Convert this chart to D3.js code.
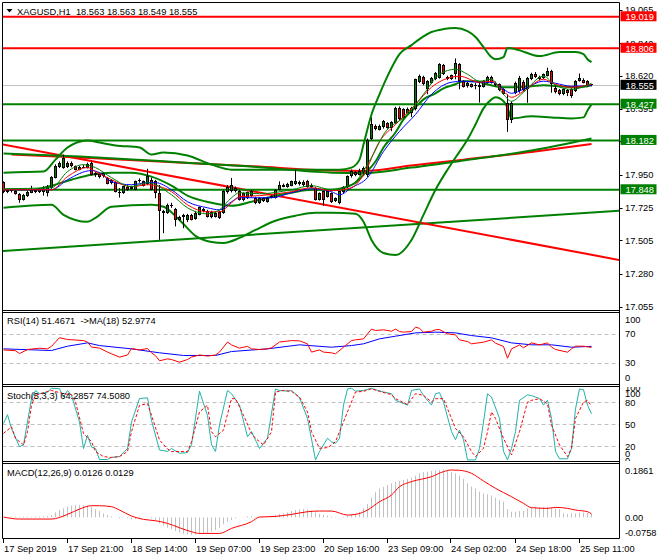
<!DOCTYPE html>
<html><head><meta charset="utf-8">
<script src="https://cdn.jsdelivr.net/npm/d3@7"></script>
<style>
html,body{margin:0;padding:0;background:#fff;}
svg{display:block;font-family:"Liberation Sans",Arial,sans-serif;}
text{white-space:pre;}
</style></head><body>
<svg id="c" width="660" height="560"></svg>
<script>
// ---------------- DATA ----------------
const mainTitle = "XAGUSD,H1  18.563 18.563 18.549 18.555";
const rsiTitle = "RSI(14) 51.4671  ->MA(18) 52.9774";
const stochTitle = "Stoch(5,3,3) 64.2857 74.5080";
const macdTitle = "MACD(12,26,9) 0.0126 0.0129";

const timeLabels = ["17 Sep 2019","17 Sep 21:00","18 Sep 14:00","19 Sep 07:00","19 Sep 23:00","20 Sep 16:00","23 Sep 09:00","24 Sep 02:00","24 Sep 18:00","25 Sep 11:00"];
const timeLabelBars = [0,16,32,48,64,80,96,112,128,144];

const priceTicks = [19.065,18.840,18.620,18.395,18.175,17.950,17.725,17.505,17.280,17.055];
const redLevels = [19.019,18.806];
const greenLevels = [18.427,18.182,17.848];
const lastPrice = 18.555;

// candles: [open, high, low, close]
const candles = [
[17.898,17.905,17.825,17.831],[17.832,17.850,17.825,17.845],[17.845,17.852,17.830,17.838],[17.840,17.845,17.815,17.822],
[17.822,17.825,17.760,17.780],[17.780,17.820,17.775,17.815],[17.805,17.840,17.800,17.835],[17.828,17.875,17.825,17.848],
[17.845,17.850,17.825,17.830],[17.830,17.858,17.826,17.850],[17.835,17.872,17.808,17.850],[17.826,17.880,17.803,17.866],
[17.860,17.940,17.855,17.932],[17.930,18.020,17.925,18.012],[18.000,18.040,17.995,18.030],[17.997,18.086,17.990,18.064],
[18.000,18.040,17.995,18.030],[18.030,18.040,18.000,18.008],[18.008,18.012,17.980,17.985],[17.985,18.010,17.980,18.005],
[18.005,18.015,17.995,18.000],[17.996,18.032,17.992,18.025],[18.030,18.040,17.945,17.951],[17.950,17.968,17.935,17.960],
[17.955,17.962,17.925,17.935],[17.940,17.965,17.930,17.960],[17.930,17.935,17.885,17.890],[17.895,17.920,17.885,17.912],
[17.900,17.905,17.830,17.836],[17.836,17.860,17.795,17.826],[17.826,17.875,17.820,17.871],[17.870,17.878,17.840,17.848],
[17.850,17.875,17.845,17.868],[17.848,17.910,17.845,17.905],[17.905,17.925,17.896,17.916],[17.905,17.910,17.870,17.875],
[17.885,17.990,17.880,17.940],[17.916,17.930,17.845,17.848],[17.905,17.915,17.790,17.826],[17.826,17.880,17.509,17.701],
[17.701,17.712,17.554,17.690],[17.690,17.755,17.685,17.747],[17.745,17.760,17.725,17.735],[17.717,17.725,17.600,17.645],
[17.645,17.672,17.638,17.667],[17.665,17.685,17.588,17.680],[17.640,17.685,17.630,17.678],[17.678,17.685,17.640,17.645],
[17.650,17.705,17.645,17.690],[17.680,17.735,17.675,17.730],[17.718,17.725,17.695,17.705],[17.705,17.712,17.660,17.667],
[17.700,17.705,17.655,17.663],[17.665,17.700,17.660,17.690],[17.700,17.705,17.650,17.656],[17.690,17.845,17.685,17.837],
[17.830,17.880,17.822,17.870],[17.837,17.928,17.830,17.883],[17.840,17.870,17.830,17.862],[17.837,17.845,17.775,17.781],
[17.826,17.830,17.770,17.781],[17.790,17.835,17.785,17.830],[17.803,17.845,17.800,17.837],[17.792,17.800,17.750,17.758],
[17.758,17.798,17.752,17.792],[17.790,17.795,17.765,17.770],[17.765,17.800,17.760,17.795],[17.795,17.810,17.790,17.803],
[17.792,17.852,17.788,17.848],[17.848,17.905,17.845,17.883],[17.880,17.890,17.865,17.870],[17.870,17.895,17.862,17.890],
[17.876,17.910,17.872,17.905],[17.888,17.985,17.880,17.905],[17.900,17.910,17.876,17.885],[17.880,17.912,17.870,17.900],
[17.905,17.915,17.862,17.867],[17.867,17.890,17.860,17.880],[17.860,17.865,17.775,17.781],[17.781,17.830,17.775,17.826],
[17.837,17.840,17.740,17.781],[17.800,17.840,17.795,17.837],[17.826,17.830,17.758,17.763],[17.770,17.796,17.765,17.792],
[17.758,17.842,17.750,17.837],[17.830,17.872,17.826,17.867],[17.867,17.945,17.860,17.939],[17.939,17.985,17.930,17.973],
[17.965,17.975,17.940,17.950],[17.950,17.990,17.945,17.975],[17.965,18.005,17.950,17.996],[17.945,18.195,17.935,18.188],
[18.190,18.336,18.185,18.290],[18.283,18.290,18.250,18.256],[18.255,18.290,18.250,18.280],[18.270,18.320,18.262,18.313],
[18.297,18.305,18.262,18.268],[18.268,18.312,18.245,18.306],[18.302,18.410,18.295,18.404],[18.404,18.412,18.320,18.329],
[18.392,18.400,18.330,18.336],[18.370,18.405,18.365,18.397],[18.366,18.410,18.340,18.404],[18.392,18.600,18.385,18.596],
[18.580,18.628,18.570,18.620],[18.614,18.620,18.555,18.562],[18.533,18.590,18.495,18.585],[18.570,18.612,18.565,18.607],
[18.596,18.645,18.590,18.637],[18.607,18.705,18.600,18.698],[18.691,18.700,18.625,18.630],[18.614,18.620,18.590,18.596],
[18.600,18.628,18.592,18.623],[18.630,18.737,18.596,18.709],[18.698,18.705,18.528,18.585],[18.585,18.590,18.540,18.546],
[18.550,18.578,18.540,18.573],[18.562,18.568,18.540,18.546],[18.548,18.570,18.528,18.560],[18.555,18.585,18.438,18.545],
[18.546,18.590,18.540,18.585],[18.573,18.620,18.567,18.614],[18.614,18.620,18.567,18.573],[18.570,18.580,18.548,18.555],
[18.562,18.568,18.515,18.521],[18.528,18.535,18.490,18.494],[18.437,18.494,18.240,18.317],[18.320,18.445,18.300,18.437],
[18.500,18.580,18.495,18.573],[18.517,18.619,18.505,18.607],[18.580,18.590,18.515,18.521],[18.528,18.612,18.437,18.607],
[18.596,18.640,18.590,18.635],[18.635,18.645,18.605,18.610],[18.612,18.620,18.590,18.596],[18.603,18.635,18.598,18.630],
[18.619,18.675,18.615,18.653],[18.653,18.660,18.505,18.567],[18.540,18.560,18.500,18.510],[18.521,18.530,18.488,18.494],
[18.494,18.535,18.488,18.528],[18.521,18.530,18.482,18.500],[18.528,18.535,18.470,18.483],[18.517,18.590,18.510,18.585],
[18.585,18.635,18.580,18.607],[18.589,18.603,18.568,18.574],[18.581,18.590,18.545,18.551],[18.563,18.563,18.549,18.555]
];

// trend lines: [bar, price] anchors
const trendRed = [[0,18.154],[147,17.408]];
const trendGreen = [[0,17.434],[147,17.693]];

// Bollinger bands: [bar, price]
const bbUpper = [[0,17.964],[10,17.971],[13,18.052],[16,18.134],[21,18.182],[24,18.168],[28,18.148],[34,18.134],[37,18.086],[40,18.100],[46,18.080],[52,18.018],[57,17.984],[67,17.984],[77,17.984],[84,17.984],[87,17.998],[89,18.052],[90,18.154],[92,18.358],[94,18.494],[96,18.617],[99,18.766],[102,18.827],[104,18.868],[107,18.916],[110,18.936],[113,18.943],[116,18.922],[118,18.882],[120,18.814],[122,18.746],[123,18.732],[125,18.746],[126,18.807],[128,18.800],[134,18.753],[139,18.780],[143,18.780],[145,18.766],[146,18.732],[147,18.712]];
const bbMiddle = [[0,17.848],[7,17.848],[12,17.876],[17,17.916],[22,17.950],[27,17.964],[32,17.964],[37,17.937],[42,17.876],[46,17.808],[52,17.760],[57,17.740],[62,17.767],[67,17.801],[72,17.828],[77,17.848],[82,17.848],[85,17.862],[88,17.896],[90,17.950],[93,18.039],[95,18.134],[98,18.236],[100,18.324],[103,18.406],[105,18.460],[108,18.501],[110,18.535],[113,18.562],[115,18.583],[118,18.583],[120,18.569],[123,18.549],[125,18.542],[128,18.542],[132,18.549],[135,18.555],[139,18.549],[143,18.542],[146,18.549],[147,18.555]];
const bbLower = [[0,17.726],[12,17.746],[15,17.678],[21,17.631],[23,17.658],[27,17.733],[37,17.746],[40,17.733],[44,17.644],[48,17.536],[52,17.495],[55,17.488],[59,17.522],[63,17.576],[68,17.638],[73,17.672],[78,17.692],[82,17.692],[88,17.685],[90,17.631],[92,17.508],[95,17.420],[98,17.406],[102,17.508],[105,17.678],[108,17.848],[111,17.984],[113,18.066],[116,18.188],[118,18.290],[120,18.399],[122,18.460],[123,18.474],[125,18.447],[126,18.406],[127,18.331],[132,18.345],[137,18.338],[142,18.331],[145,18.338],[146,18.385],[147,18.426]];

// long moving averages
const maLongGreen = [[0,18.093],[19,18.073],[39,18.042],[62,18.005],[82,17.964],[90,17.961],[102,17.998],[115,18.046],[132,18.114],[147,18.195]];
const maLongRed = [[2,18.086],[19,18.066],[39,18.039],[62,18.008],[82,17.978],[90,17.975],[102,18.012],[115,18.052],[132,18.104],[147,18.158]];

// short moving averages
const maFastGreen = [[0,17.855],[12,17.862],[16,17.971],[20,18.018],[23,17.998],[27,17.930],[32,17.869],[36,17.896],[42,17.814],[46,17.726],[51,17.685],[54,17.712],[57,17.794],[59,17.828],[64,17.821],[72,17.848],[77,17.876],[82,17.848],[87,17.882],[92,18.066],[95,18.222],[101,18.358],[105,18.494],[109,18.630],[113,18.664],[116,18.630],[119,18.583],[122,18.596],[125,18.494],[127,18.447],[130,18.508],[135,18.617],[138,18.555],[142,18.528],[147,18.569]];
const maMidRed = [[0,17.848],[12,17.848],[16,17.937],[21,17.998],[23,17.971],[27,17.916],[32,17.869],[36,17.882],[42,17.835],[46,17.746],[51,17.699],[54,17.699],[57,17.760],[59,17.801],[64,17.808],[72,17.835],[77,17.862],[82,17.842],[87,17.862],[90,17.950],[94,18.175],[98,18.290],[103,18.426],[107,18.542],[112,18.610],[114,18.617],[119,18.576],[122,18.583],[125,18.515],[127,18.474],[130,18.515],[135,18.596],[138,18.562],[142,18.542],[147,18.562]];
const maSlowBlue = [[0,17.848],[12,17.848],[16,17.916],[22,17.978],[24,17.964],[27,17.903],[32,17.882],[36,17.896],[38,17.896],[42,17.848],[46,17.767],[51,17.726],[54,17.712],[57,17.767],[59,17.794],[67,17.794],[72,17.828],[77,17.855],[82,17.835],[84,17.814],[87,17.862],[91,17.930],[95,18.107],[99,18.243],[103,18.358],[107,18.494],[112,18.576],[115,18.583],[119,18.576],[122,18.576],[125,18.528],[127,18.501],[130,18.528],[135,18.583],[138,18.569],[142,18.549],[147,18.555]];

// RSI
const rsiValues = [[0,48],[3,47],[4,43],[6,48.6],[9,50.4],[11,49.5],[12,53],[14,65],[16,62.5],[20,61],[21,59],[22,52],[24,50.5],[26,45],[27,42.6],[29,38],[31,41],[32,50],[34,48],[36,50],[37,44],[38,40],[39,33],[41,35.6],[42,34.7],[44,31],[46,34.7],[47,38],[49,41],[51,39.5],[53,41],[54,45],[56,59],[57,55],[59,50.5],[61,53],[62,49.5],[64,48.6],[66,49.5],[67,51],[69,59],[72,61],[74,60.6],[76,56.5],[77,45],[79,48],[80,45],[82,44],[83,42.6],[85,51.8],[87,61],[88,62],[90,63.4],[92,77],[93,75],[95,76],[97,74],[98,77],[99,73.6],[100,72.7],[102,73.6],[103,79.6],[104,78],[105,72.7],[107,74],[108,76],[109,76.4],[111,70.3],[113,69],[114,62],[116,59.7],[117,56.5],[120,58.8],[122,62],[123,57.4],[125,52.8],[126,36.5],[127,49.5],[129,55],[130,51],[132,57.8],[134,55],[136,57.8],[137,52],[138,48.6],[141,44.9],[142,49.5],[143,53.2],[145,53.2],[147,51.47]];
const rsiMA = [[0,49.5],[12,47.2],[16,53.2],[21,57.8],[24,54.1],[32,49.5],[39,44],[45,40.3],[53,40.3],[57,45.8],[66,49.5],[74,55.1],[82,51.8],[87,54.1],[90,56.5],[94,63.4],[98,67.1],[103,71.7],[108,72.7],[113,71.7],[117,68],[122,64.8],[127,57.8],[132,55.1],[137,55.1],[142,51.8],[147,52.98]];
const rsiLevels = [70,30];
const rsiAxis = [100,70,30,0];

// Stochastic
const stochK = [[0,51],[1,63],[2,44],[4,19.5],[5,21.8],[7,84.8],[8,96],[9,91.5],[11,93.8],[12,99],[14,98.3],[15,87],[16,96],[17,89.3],[19,53],[20,17],[21,35],[22,19],[23,17],[24,2],[26,2],[27,5],[29,6],[31,17],[32,53],[34,85],[36,86],[37,55],[39,15],[41,13],[42,17],[44,10.5],[46,11.5],[47,22],[49,95],[51,62],[52,22],[53,13],[54,49],[56,96],[57,91.5],[59,76],[61,33],[62,40],[64,17],[66,31],[68,98],[69,96],[71,95],[72,96],[74,86],[76,58],[78,1.5],[79,13],[81,31],[82,26],[83,24],[84,31],[85,76],[86,98],[87,99],[88,95],[90,96],[92,99],[93,97],[95,94],[97,91.5],[98,82.5],[101,76],[102,96],[104,98],[105,89],[107,76],[108,91.5],[109,93],[110,80],[112,40],[113,29],[114,42],[115,29],[116,1.5],[118,1.5],[119,17],[120,53],[121,91.5],[122,87],[124,58],[125,13],[126,1.5],[127,17],[128,40],[129,82.5],[131,90],[132,89],[134,85],[135,76],[136,82.5],[137,58],[138,13],[139,3],[141,3],[142,17],[143,71],[144,98],[145,97],[146,76],[147,64.29]];
const stochD = [[0,37.5],[2,46.5],[3,30.8],[5,21.8],[6,39.8],[7,75.8],[8,89.3],[10,92.9],[12,96],[15,91.5],[17,90.2],[18,80.3],[20,37.5],[22,26.3],[23,12.8],[25,6],[27,4.7],[29,6],[31,12.8],[32,39.8],[34,75.8],[36,78],[37,62.3],[39,28.6],[41,16.4],[42,12.8],[44,12.8],[46,12.8],[47,26.3],[49,66.8],[51,75.8],[52,39.8],[53,33],[55,42],[57,84.8],[58,84.8],[60,62.3],[62,37.5],[63,30.8],[65,21.8],[67,39.8],[68,93.8],[70,96],[72,94.7],[74,87],[76,66.8],[77,39.8],[79,17.3],[81,18.2],[82,21.8],[83,26.3],[85,53.3],[87,80.3],[88,93.8],[90,94.7],[92,98.3],[94,94.7],[97,90.2],[98,84.8],[101,76.7],[103,91.5],[105,89.3],[107,80.3],[108,84.8],[110,84.8],[112,57.8],[113,44.3],[115,33],[117,12.8],[118,6],[120,17.3],[121,39.8],[122,66.8],[123,57.8],[125,30.8],[127,8.3],[129,39.8],[131,80.3],[132,82.5],[134,84.8],[136,78],[137,48.8],[139,21.8],[141,6],[142,17.3],[143,57.8],[145,80.3],[146,82.5],[147,74.51]];
const stochLevels = [80,50,20];

// MACD
const macdHist = [0.000,0.002,0.003,0.003,0.002,0.003,0.003,0.002,0.003,0.003,0.004,0.005,
0.009,0.019,0.028,0.034,0.040,0.044,0.047,0.047,0.046,0.044,0.040,0.031,0.024,0.015,0.009,0.004,0.000,-0.004,
-0.001,-0.004,-0.008,-0.006,-0.004,-0.001,0.001,-0.004,-0.010,-0.023,-0.031,-0.039,-0.044,-0.052,-0.057,-0.062,
-0.064,-0.067,-0.064,-0.064,-0.062,-0.058,-0.054,-0.048,-0.039,-0.026,-0.016,-0.010,-0.004,0.000,0.001,0.004,
0.004,0.001,0.000,0.001,0.004,0.005,0.009,0.013,0.015,0.019,0.024,0.028,0.030,0.031,0.030,0.025,0.019,0.013,
0.009,0.006,0.003,0.002,0.000,0.003,0.006,0.011,0.015,0.021,0.034,0.050,0.075,0.095,0.108,0.115,0.122,0.128,
0.134,0.138,0.141,0.145,0.150,0.157,0.166,0.170,0.172,0.175,0.177,0.179,0.181,0.178,0.172,0.166,0.157,0.145,
0.128,0.116,0.109,0.097,0.090,0.087,0.082,0.074,0.065,0.059,0.031,0.021,0.021,0.024,0.024,0.034,0.036,0.040,
0.038,0.038,0.040,0.038,0.034,0.031,0.015,0.012,0.015,0.015,0.018,0.018,0.016,0.0126];
const macdSignal = [[0,0.0013],[4,-0.0063],[12,-0.0063],[16,0.0113],[19,0.0314],[22,0.044],[24,0.044],[27,0.0402],[29,0.0277],[32,0.005],[35,-0.0075],[38,-0.0126],[41,-0.0226],[44,-0.039],[47,-0.0541],[49,-0.0604],[54,-0.0604],[57,-0.0415],[62,-0.0163],[64,0.0013],[68,0.0038],[72,0.0113],[76,0.0214],[79,0.0239],[82,0.0239],[86,0.0088],[88,0.0113],[91,0.0277],[94,0.0591],[97,0.0843],[99,0.1157],[102,0.1346],[107,0.1534],[110,0.1723],[112,0.1786],[114,0.1774],[117,0.166],[120,0.1371],[123,0.1094],[127,0.078],[130,0.0528],[132,0.0365],[136,0.034],[138,0.0377],[141,0.034],[143,0.0277],[146,0.0214],[147,0.0129]];
const macdMax = 0.1861, macdMin = -0.0758;
const macdAxis = ["0.1861","0.00","-0.0758"];

// ---------------- LAYOUT ----------------
const svg = d3.select("#c");
const FS = 9.3;
const L = 2.5, R = 619.5;
const P = {main:[2.5,310.5], rsi:[312.5,384.5], sto:[386.5,461.5], macd:[463.5,538.5]};

const x = d3.scaleLinear().domain([0,147]).range([3.5,591.5]);
const yP = d3.scaleLinear().domain([17.055,19.065]).range([306.9,10]);
const yR = d3.scaleLinear().domain([0,100]).range([384.5,312.5]);
const yS = d3.scaleLinear().domain([0,100]).range([461,387.5]);
const yM = d3.scaleLinear().domain([macdMin,macdMax]).range([537.5,468]);

const defs = svg.append("defs");
function addClip(id,x0,y0,x1,y1){defs.append("clipPath").attr("id",id).append("rect").attr("x",x0).attr("y",y0).attr("width",x1-x0).attr("height",y1-y0);}
addClip("cMain",3,3,619,310);
addClip("cRsi",3,313,619,384);
addClip("cSto",3,387,619,461);
addClip("cMacd",3,464,619,538);
addClip("cStoAx",620,387,660,461);

const GREEN="#008000", RED="#ff0000", BLUE="#0000ff", SILVER="#c0c0c0", TEAL="#20b2aa";

// ---------------- MAIN ----------------
const gm = svg.append("g").attr("clip-path","url(#cMain)");
const smooth = (ys)=>d3.line().x(d=>x(d[0])).y(d=>ys(d[1])).curve(d3.curveMonotoneX);
const straight = (ys)=>d3.line().x(d=>x(d[0])).y(d=>ys(d[1]));

// current price line
gm.append("line").attr("x1",L).attr("x2",R).attr("y1",Math.round(yP(lastPrice))+0.5).attr("y2",Math.round(yP(lastPrice))+0.5).attr("stroke",SILVER).attr("stroke-width",1);

// trend lines extended over the plot
function trend(a,color){
  const slope=(a[1][1]-a[0][1])/(a[1][0]-a[0][0]);
  const b0=x.invert(L), b1=x.invert(R);
  const p=(b)=>a[0][1]+slope*(b-a[0][0]);
  gm.append("line").attr("x1",x(b0)).attr("x2",x(b1)).attr("y1",yP(p(b0))).attr("y2",yP(p(b1))).attr("stroke",color).attr("stroke-width",2);
}
trend(trendGreen,GREEN);
trend(trendRed,RED);

// horizontal levels
redLevels.forEach(v=>gm.append("line").attr("x1",L).attr("x2",R).attr("y1",yP(v)).attr("y2",yP(v)).attr("stroke",RED).attr("stroke-width",2));
greenLevels.forEach(v=>gm.append("line").attr("x1",L).attr("x2",R).attr("y1",yP(v)).attr("y2",yP(v)).attr("stroke",GREEN).attr("stroke-width",2));

// long MAs
gm.append("path").attr("d",smooth(yP)(maLongRed)).attr("fill","none").attr("stroke",RED).attr("stroke-width",2);
gm.append("path").attr("d",smooth(yP)(maLongGreen)).attr("fill","none").attr("stroke",GREEN).attr("stroke-width",2);

// Bollinger
[bbUpper,bbMiddle,bbLower].forEach(s=>gm.append("path").attr("d",smooth(yP)(s)).attr("fill","none").attr("stroke",GREEN).attr("stroke-width",2));

// candles
const cg = gm.append("g");
candles.forEach((c,i)=>{
  const [o,h,l,cl]=c; const cx=x(i);
  cg.append("line").attr("x1",cx).attr("x2",cx).attr("y1",yP(h)).attr("y2",yP(l)).attr("stroke","#000").attr("stroke-width",1);
  const top=Math.round(yP(Math.max(o,cl))), bot=Math.round(yP(Math.min(o,cl)));
  const hh=Math.max(1,bot-top);
  cg.append("rect").attr("x",cx-1.5).attr("y",top).attr("width",3).attr("height",hh).attr("fill","#000");
  if(hh>2) cg.append("rect").attr("x",cx-0.5).attr("y",top+1).attr("width",1).attr("height",hh-2).attr("fill",cl>=o?GREEN:RED);
});

// short MAs
gm.append("path").attr("d",smooth(yP)(maSlowBlue)).attr("fill","none").attr("stroke",BLUE).attr("stroke-width",1);
gm.append("path").attr("d",smooth(yP)(maMidRed)).attr("fill","none").attr("stroke",RED).attr("stroke-width",1);
gm.append("path").attr("d",smooth(yP)(maFastGreen)).attr("fill","none").attr("stroke",GREEN).attr("stroke-width",1);

// title
svg.append("path").attr("d","M6.5,9 L12.5,9 L9.5,12.5 Z").attr("fill","#000");
svg.append("text").attr("x",17).attr("y",14.5).attr("font-size",FS).text(mainTitle);

// price axis
priceTicks.forEach(v=>{
  svg.append("line").attr("x1",R).attr("x2",R+3).attr("y1",Math.round(yP(v))+0.5).attr("y2",Math.round(yP(v))+0.5).attr("stroke","#000");
  svg.append("text").attr("x",625).attr("y",yP(v)+3.3).attr("font-size",FS).text(v.toFixed(3));
});
function tag(v,bg){
  const yy=yP(v);
  svg.append("rect").attr("x",620.5).attr("y",yy-5.5).attr("width",36).attr("height",10).attr("fill",bg);
  svg.append("text").attr("x",625.5).attr("y",yy+3.3).attr("font-size",FS).attr("fill","#fff").text(v.toFixed(3));
}
redLevels.forEach(v=>tag(v,RED));
tag(lastPrice,"#000");
greenLevels.forEach(v=>tag(v,GREEN));

// ---------------- RSI ----------------
const gr = svg.append("g").attr("clip-path","url(#cRsi)");
rsiLevels.forEach(v=>gr.append("line").attr("x1",L).attr("x2",R).attr("y1",Math.round(yR(v))+0.5).attr("y2",Math.round(yR(v))+0.5).attr("stroke",SILVER).attr("stroke-dasharray","4,3"));
gr.append("path").attr("d",straight(yR)(rsiMA)).attr("fill","none").attr("stroke",BLUE).attr("stroke-width",1);
gr.append("path").attr("d",straight(yR)(rsiValues)).attr("fill","none").attr("stroke",RED).attr("stroke-width",1);
svg.append("text").attr("x",7).attr("y",324).attr("font-size",FS).text(rsiTitle);
rsiAxis.forEach(v=>{
  const yy=Math.min(Math.max(yR(v),P.rsi[0]+7),P.rsi[1]-7);
  svg.append("text").attr("x",625).attr("y",yy+3.3).attr("font-size",FS).text(String(v));
});

// ---------------- STOCH ----------------
const gs = svg.append("g").attr("clip-path","url(#cSto)");
stochLevels.forEach(v=>gs.append("line").attr("x1",L).attr("x2",R).attr("y1",Math.round(yS(v))+0.5).attr("y2",Math.round(yS(v))+0.5).attr("stroke",SILVER).attr("stroke-dasharray","4,3"));
gs.append("path").attr("d",straight(yS)(stochK)).attr("fill","none").attr("stroke",TEAL).attr("stroke-width",1);
gs.append("path").attr("d",straight(yS)(stochD)).attr("fill","none").attr("stroke",RED).attr("stroke-width",1).attr("stroke-dasharray","3,2");
svg.append("text").attr("x",7).attr("y",399).attr("font-size",FS).text(stochTitle);
const gsa = svg.append("g").attr("clip-path","url(#cStoAx)");
[100,0].forEach(v=>gsa.append("text").attr("x",625).attr("y",yS(v)+3.3).attr("font-size",FS).text(String(v)));
gsa.append("text").attr("x",625).attr("y",P.sto[0]+7+3.3).attr("font-size",FS).text("100");
gsa.append("text").attr("x",625).attr("y",P.sto[1]-7.5+3.3).attr("font-size",FS).text("0");
stochLevels.forEach(v=>gsa.append("text").attr("x",625).attr("y",yS(v)+3.3).attr("font-size",FS).text(String(v)));

// ---------------- MACD ----------------
const gc = svg.append("g").attr("clip-path","url(#cMacd)");
macdHist.forEach((v,i)=>gc.append("line").attr("x1",x(i)).attr("x2",x(i)).attr("y1",yM(0)).attr("y2",yM(v)).attr("stroke",SILVER).attr("stroke-width",1));
gc.append("path").attr("d",smooth(yM)(macdSignal)).attr("fill","none").attr("stroke",RED).attr("stroke-width",1);
svg.append("text").attr("x",7).attr("y",475.5).attr("font-size",FS).text(macdTitle);
[[macdAxis[0],P.macd[0]+7.5],[macdAxis[1],yM(0)],[macdAxis[2],P.macd[1]-6]].forEach(([t,yy])=>{
  svg.append("text").attr("x",625).attr("y",yy+3.3).attr("font-size",FS).text(t);
});

// ---------------- FRAMES ----------------
const fr = svg.append("g").attr("stroke","#000").attr("stroke-width",1).attr("fill","none");
Object.values(P).forEach(([t,b])=>{
  fr.append("line").attr("x1",L).attr("x2",R).attr("y1",t).attr("y2",t);
  fr.append("line").attr("x1",L).attr("x2",R).attr("y1",b).attr("y2",b);
});
fr.append("line").attr("x1",L).attr("x2",L).attr("y1",2.5).attr("y2",538.5);
fr.append("line").attr("x1",R).attr("x2",R).attr("y1",2.5).attr("y2",538.5);

// time axis
timeLabelBars.forEach((b,k)=>{
  const tx=Math.round(x(b))-0.5;
  fr.append("line").attr("x1",tx).attr("x2",tx).attr("y1",538.5).attr("y2",543);
  svg.append("text").attr("x",tx+0.5).attr("y",551.5).attr("font-size",FS).text(timeLabels[k]);
});
</script>
</body></html>
